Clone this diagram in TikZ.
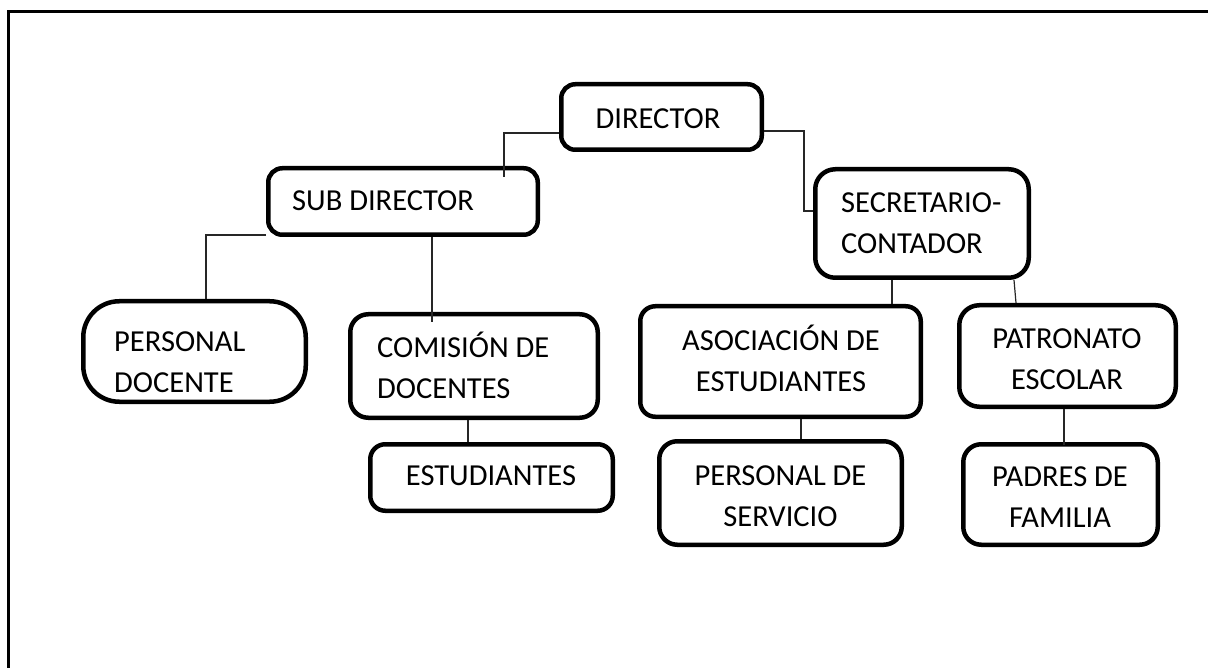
\documentclass[tikz,border=0pt]{standalone}
\usepackage{fontspec}
\setmainfont{Carlito}
\begin{document}
\begin{tikzpicture}[x=1pt,y=-1pt,
  box/.style={draw=black,line width=4.5pt,rounded corners=#1,inner sep=0pt},
  box/.default=14pt,
  txt/.style={inner sep=0pt,font=\fontsize{30.5}{41}\selectfont},
  conn/.style={draw=black!85,line width=1.2pt},
  frame/.style={draw=black,line width=3pt}]
\useasboundingbox (0,0) rectangle (1208,668);
\draw[frame] (1208,12) -- (8,12) -- (8,668);
% boxes
\node[box,minimum width=200.5pt,minimum height=65.5pt] (dir) at (661.5,117) {};
\node[box,minimum width=269.5pt,minimum height=66.5pt] (sub) at (403,201.5) {};
\node[box=20pt,minimum width=213.5pt,minimum height=108.5pt] (sec) at (922,223.5) {};
\node[box=36pt,minimum width=222.5pt,minimum height=100.5pt] (pd) at (194.5,351.5) {};
\node[box=18pt,minimum width=247.5pt,minimum height=103.5pt] (com) at (474,366) {};
\node[box=15pt,minimum width=242.5pt,minimum height=66.5pt] (est) at (491.5,477.5) {};
\node[box=15pt,minimum width=280.5pt,minimum height=110.5pt] (asoc) at (780.5,361.5) {};
\node[box=20pt,minimum width=216.5pt,minimum height=101.5pt] (patr) at (1067.5,356) {};
\node[box=18pt,minimum width=242.5pt,minimum height=103.5pt] (ps) at (780.5,493) {};
\node[box=18pt,minimum width=194.5pt,minimum height=100.5pt] (pf) at (1060.5,494.5) {};
% texts
\node[txt] (dir-t) at (658,120) {\strut DIRECTOR};
\node[txt,anchor=west] (sub-t) at (292,202) {\strut SUB DIRECTOR};
\node[txt,anchor=west,align=left] (sec-t) at (841,225) {\strut SECRETARIO-\\\strut CONTADOR};
\node[txt,anchor=west,align=left] (pd-t) at (114,364) {\strut PERSONAL\\\strut DOCENTE};
\node[txt,anchor=west,align=left] (com-t) at (377,370) {\strut COMISIÓN DE\\\strut DOCENTES};
\node[txt] (est-t) at (491,477) {\strut ESTUDIANTES};
\node[txt,align=center] (asoc-t) at (781,362.5) {\strut ASOCIACIÓN DE\\\strut ESTUDIANTES};
\node[txt,align=center] (patr-t) at (1067,361) {\strut PATRONATO\\\strut ESCOLAR};
\node[txt,align=center] (ps-t) at (780.5,497.5) {\strut PERSONAL DE\\\strut SERVICIO};
\node[txt,align=center] (pf-t) at (1060,499) {\strut PADRES DE\\\strut FAMILIA};
% connectors
\draw[conn] ([yshift=-16pt]dir.west) -| ([xshift=101pt,yshift=24.5pt]sub.center);
\draw[conn] ([yshift=-14pt]dir.east) -| ([xshift=-9pt,yshift=12.5pt]sec.west) -- ([yshift=12.5pt]sec.west);
\draw[conn] ([yshift=-33.5pt]sub.west) -| ([xshift=11.5pt]pd.north);
\draw[conn] ([xshift=29pt]sub.south) -- ([xshift=-42pt,yshift=-10pt]com.north);
\draw[conn] ([xshift=-6pt]com.south) -- ([xshift=-23.5pt]est.north);
\draw[conn] ([xshift=-30pt]sec.south) -- ([xshift=111.5pt]asoc.north);
\draw[conn] ([xshift=92pt]sec.south) -- ([xshift=-51.5pt]patr.north);
\draw[conn] ([xshift=20.5pt]asoc.south) -- ([xshift=20.5pt]ps.north);
\draw[conn] ([xshift=-3.5pt]patr.south) -- ([xshift=3.5pt,yshift=-3pt]pf.north);
\end{tikzpicture}
\end{document}
